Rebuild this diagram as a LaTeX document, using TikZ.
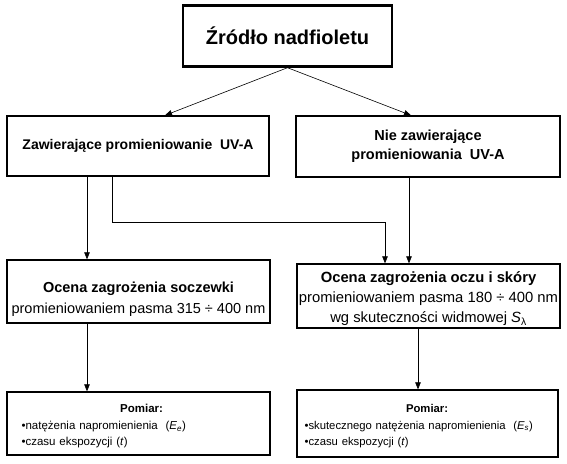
\documentclass[tikz,border=0pt]{standalone}
\usepackage{fontspec}
\setmainfont{Liberation Sans}
\usetikzlibrary{arrows.meta}
\begin{document}
\begin{tikzpicture}[x=1pt,y=-1pt,
  box/.style={draw, line width=1.3pt, inner sep=0pt, align=center},
  txt/.style={inner sep=0pt, align=center},
  arr/.style={-{Triangle[length=7pt,width=5.5pt]}, line width=0.6pt}]
\useasboundingbox (0,0) rectangle (567,463);
\node[box, line width=2.4pt, minimum width=209pt, minimum height=61pt,
  font=\bfseries\fontsize{20}{24}\selectfont] (top) at (287.5,36) {Źródło nadfioletu};
\node[box, minimum width=262pt, minimum height=60pt,
  font=\bfseries\fontsize{14}{17}\selectfont] (lu) at (138,146) {Zawierające promieniowanie\ \ UV-A};
\node[box, minimum width=264pt, minimum height=61pt,
  font=\bfseries\fontsize{14.5}{19}\selectfont] (ru) at (428,146.5) {Nie zawierające\\promieniowania\ \ UV-A};
\node[box, minimum width=263pt, minimum height=63pt] (lm) at (138.5,291.5) {};
\node[txt, font=\fontsize{14.5}{21}\selectfont] (lmt) at ([yshift=-8pt]lm.center)
  {\textbf{Ocena zagrożenia soczewki}\\promieniowaniem pasma 315 ÷ 400 nm};
\node[box, minimum width=263pt, minimum height=64pt] (rm) at (428.5,296) {};
\node[txt, font=\fontsize{14.8}{20}\selectfont] (rmt) at ([yshift=-3pt]rm.center)
  {\textbf{Ocena zagrożenia oczu i skóry}\\promieniowaniem pasma 180 ÷ 400 nm\\wg skuteczności widmowej \textit{S}\textsubscript{λ}};
\node[box, minimum width=263pt, minimum height=63pt] (lb) at (138.5,423.5) {};
\node[txt, text width=240pt, align=left, font=\fontsize{11.5}{16.5}\selectfont, anchor=north west]
  (lbt) at ([xshift=15pt,yshift=-13pt]lb.north west)
  {\centering\textbf{Pomiar:}\par\raggedright\textbullet natężenia napromienienia\ \ (\textit{E}\textsubscript{\textit{e}})\\\textbullet czasu ekspozycji (\textit{t})};
\node[box, minimum width=261pt, minimum height=67pt] (rb) at (427.5,423.5) {};
\node[txt, text width=245pt, align=left, font=\fontsize{11.3}{16.5}\selectfont, anchor=north west]
  (rbt) at ([xshift=8pt,yshift=-15pt]rb.north west)
  {\centering\textbf{Pomiar:}\par\raggedright\textbullet skutecznego natężenia napromienienia\ \ (\textit{E}\textsubscript{\textit{s}})\\\textbullet czasu ekspozycji (\textit{t})};
\coordinate (bend) at (385,222);
\draw[arr] (top.south) -- (165,0 |- lu.north);
\draw[arr] (top.south) -- (411,0 |- ru.north);
\draw[arr] (87,0 |- lu.south) -- (87,0 |- lm.north);
\draw[arr] (112,0 |- lu.south) |- (bend) -- (bend |- rm.north);
\draw[arr] (409,0 |- ru.south) -- (409,0 |- rm.north);
\draw[arr] (87,0 |- lm.south) -- (87,0 |- lb.north);
\draw[arr] (418,0 |- rm.south) -- (418,0 |- rb.north);
\end{tikzpicture}
\end{document}
